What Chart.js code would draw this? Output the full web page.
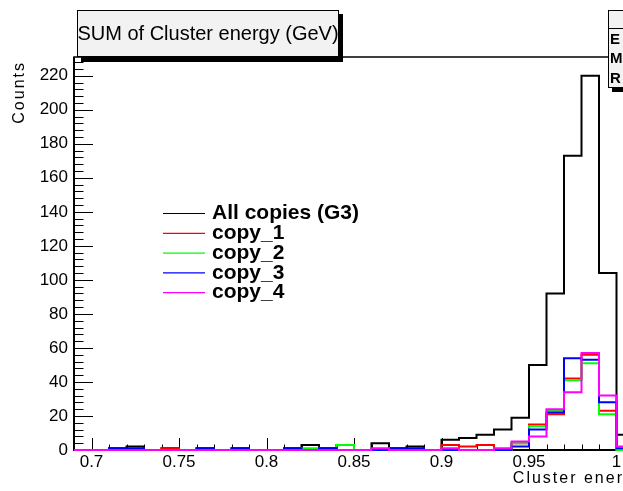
<!DOCTYPE html>
<html>
<head>
<meta charset="utf-8">
<title>SUM of Cluster energy (GeV)</title>
<script src="https://cdn.jsdelivr.net/npm/chart.js@4.4.1/dist/chart.umd.min.js"></script>
<style>
  html, body { margin: 0; padding: 0; background: #fff; overflow: hidden; }
  #wrap { width: 782px; height: 491px; }
</style>
</head>
<body>
<div id="wrap"><canvas id="histo" width="782" height="491"></canvas></div>
<script>
// bin low edges (GeV), bins are 0.01 wide
const binLow = [0.69, 0.70, 0.71, 0.72, 0.73, 0.74, 0.75, 0.76, 0.77, 0.78, 0.79, 0.80,
  0.81, 0.82, 0.83, 0.84, 0.85, 0.86, 0.87, 0.88, 0.89, 0.90, 0.91, 0.92,
  0.93, 0.94, 0.95, 0.96, 0.97, 0.98, 0.99, 1.00, 1.01, 1.02, 1.03, 1.04];
const binWidth = 0.01;

const allCopies = [0, 0, 1, 2, 0, 1, 0, 1, 0, 1, 0, 0,
  1, 3, 1, 3, 0, 4, 1, 2, 0, 6, 7, 9,
  12, 19, 50, 92, 173, 220, 104, 9, 3, 1, 0, 0];
const copy1 = [0, 0, 0, 0, 0, 1, 0, 0, 0, 0, 0, 0,
  0, 0, 0, 0, 0, 0, 0, 0, 0, 3, 2, 3,
  0, 4, 15, 21, 42, 56, 23, 0, 0, 0, 0, 0];
const copy2 = [0, 0, 0, 0, 0, 0, 0, 0, 0, 0, 0, 0,
  0, 1, 0, 3, 0, 0, 0, 0, 0, 0, 0, 0,
  0, 4, 14, 23, 41, 51, 21, 0, 0, 0, 0, 0];
const copy3 = [0, 0, 1, 1, 0, 0, 0, 1, 0, 1, 0, 0,
  1, 0, 1, 0, 0, 0, 1, 1, 0, 0, 0, 0,
  0, 2, 12, 22, 54, 53, 28, 1, 0, 0, 0, 0];
const copy4 = [0, 0, 0, 0, 0, 0, 0, 0, 0, 0, 0, 0,
  0, 0, 0, 0, 0, 1, 0, 0, 0, 1, 0, 0,
  1, 5, 8, 24, 34, 57, 32, 2, 0, 0, 0, 0];

const seriesNames = ['All copies (G3)', 'copy_1', 'copy_2', 'copy_3', 'copy_4'];
const seriesColors = ['#000000', '#ff0000', '#00ff00', '#0000ff', '#ff00ff'];
const xLabelValues = [0.7, 0.75, 0.8, 0.85, 0.9, 0.95, 1, 1.05];
const yLabelValues = [0, 20, 40, 60, 80, 100, 120, 140, 160, 180, 200, 220];

const font = 'Liberation Sans, Arial, sans-serif';

function steps(counts) {
  const pts = binLow.map((x, i) => ({x: x, y: counts[i]}));
  pts.push({x: Math.round((binLow[binLow.length - 1] + binWidth) * 100) / 100, y: counts[counts.length - 1]});
  return pts;
}

function isLabel(list, v) {
  return list.some(l => Math.abs(l - v) < 1e-6);
}

const xTickValues = binLow.concat([1.05]);
const yTickValues = [];
for (let v = 0; v <= 228; v += 4) yTickValues.push(v);

// stats of the summed histogram
const entries = allCopies.reduce((a, b) => a + b, 0);
const mean = allCopies.reduce((a, c, i) => a + c * (binLow[i] + binWidth / 2), 0) / entries;
const rms = Math.sqrt(allCopies.reduce((a, c, i) => a + c * Math.pow(binLow[i] + binWidth / 2 - mean, 2), 0) / entries);

const rootFrame = {
  id: 'rootFrame',
  // frame and ticks go under the histograms, as in the ROOT picture
  beforeDatasetsDraw: (chart) => {
    const {ctx, chartArea: a} = chart;
    const x = chart.scales.x, y = chart.scales.y;
    ctx.save();
    ctx.strokeStyle = '#000';
    ctx.lineWidth = 1;
    ctx.beginPath();
    xTickValues.forEach(v => {
      const px = Math.round(x.getPixelForValue(v)) + 0.5;
      const len = isLabel(xLabelValues, v) ? 12 : 5.5;
      ctx.moveTo(px, a.bottom);
      ctx.lineTo(px, a.bottom - len);
    });
    yTickValues.forEach(v => {
      const py = Math.round(y.getPixelForValue(v)) + 0.5;
      const len = v % 20 === 0 ? 19 : 9.5;
      ctx.moveTo(a.left, py);
      ctx.lineTo(a.left + len, py);
    });
    ctx.stroke();

    ctx.lineWidth = 1.5;
    ctx.strokeRect(a.left, a.top, a.right - a.left, a.bottom - a.top);
    ctx.lineWidth = 2;
    ctx.beginPath();
    ctx.moveTo(a.left, a.top);
    ctx.lineTo(a.left, a.bottom);
    ctx.lineTo(a.right, a.bottom);
    ctx.stroke();
    ctx.restore();
  },
  afterDraw: (chart) => {
    const {ctx, chartArea: a} = chart;
    ctx.save();

    // title box
    ctx.fillStyle = '#000';
    ctx.fillRect(81, 14, 262, 48);
    ctx.fillStyle = '#f2f2f2';
    ctx.fillRect(77, 10, 262, 47);
    ctx.lineWidth = 1;
    ctx.strokeStyle = '#000';
    ctx.strokeRect(77.5, 10.5, 261, 46);
    ctx.fillStyle = '#000';
    ctx.font = '20px ' + font;
    ctx.textAlign = 'center';
    ctx.textBaseline = 'middle';
    ctx.fillText('SUM of Cluster energy (GeV)', 208, 34);

    // stats box (mostly outside the window)
    ctx.fillStyle = '#000';
    ctx.fillRect(612, 14, 158, 78);
    ctx.fillStyle = '#f2f2f2';
    ctx.fillRect(608, 10, 158, 78);
    ctx.strokeRect(608.5, 10.5, 157, 77);
    ctx.beginPath();
    ctx.moveTo(608, 28.5);
    ctx.lineTo(766, 28.5);
    ctx.stroke();
    ctx.fillStyle = '#000';
    ctx.font = 'bold 15px ' + font;
    ctx.letterSpacing = '3px';
    ctx.fillText('hsum', 687, 20);
    const rows = [['Entries', String(entries)], ['Mean', mean.toFixed(4)], ['RMS', rms.toFixed(5)]];
    rows.forEach((r, i) => {
      const ry = 39.5 + i * 19.5;
      ctx.textAlign = 'left';
      ctx.fillText(r[0], 610, ry);
      ctx.textAlign = 'right';
      ctx.fillText(r[1], 762, ry);
    });
    ctx.letterSpacing = '0px';

    // legend
    chart.data.datasets.forEach((ds, i) => {
      const ly = 213.5 + i * 19.8;
      ctx.strokeStyle = ds.borderColor;
      ctx.lineWidth = 1.2;
      ctx.beginPath();
      ctx.moveTo(163, ly);
      ctx.lineTo(205, ly);
      ctx.stroke();
      ctx.fillStyle = '#000';
      ctx.font = 'bold 21px ' + font;
      ctx.textAlign = 'left';
      ctx.textBaseline = 'middle';
      ctx.fillText(ds.label, 212, ly);
    });

    // axis titles, right aligned like ROOT
    ctx.fillStyle = '#000';
    ctx.font = '16px ' + font;
    ctx.letterSpacing = '2px';
    ctx.textAlign = 'right';
    ctx.textBaseline = 'middle';
    ctx.fillText('Cluster energy (GeV)', a.right, 479);
    ctx.translate(20, a.top + 4);
    ctx.rotate(-Math.PI / 2);
    ctx.fillText('Counts', 0, 0);

    ctx.restore();
  }
};

const seriesData = [allCopies, copy1, copy2, copy3, copy4];

const data = {
  datasets: seriesData.map((counts, i) => ({
    label: seriesNames[i],
    data: steps(counts),
    borderColor: seriesColors[i],
    backgroundColor: seriesColors[i],
    borderWidth: 2,
    stepped: 'before',
    pointRadius: 0,
    fill: false,
    clip: false,
    order: seriesData.length - i
  }))
};

const config = {
  type: 'line',
  data: data,
  options: {
    responsive: false,
    animation: false,
    layout: { padding: { top: 57, right: 78, left: 0, bottom: 0 } },
    plugins: {
      legend: { display: false },
      title: { display: false },
      tooltip: { enabled: false }
    },
    scales: {
      x: {
        type: 'linear',
        min: 0.69,
        max: 1.05,
        afterFit: (s) => { s.height = 41; },
        afterBuildTicks: (s) => { s.ticks = xTickValues.map(v => ({value: v})); },
        grid: { display: false, drawTicks: false },
        border: { display: false },
        ticks: {
          autoSkip: false,
          maxRotation: 0,
          padding: 2,
          color: '#000',
          font: { family: font, size: 17 },
          callback: (v) => isLabel(xLabelValues, v) ? String(Math.round(v * 100) / 100) : ''
        }
      },
      y: {
        min: 0,
        max: 231,
        afterFit: (s) => { s.width = 74; },
        afterBuildTicks: (s) => { s.ticks = yTickValues.map(v => ({value: v})); },
        grid: { display: false, drawTicks: false },
        border: { display: false },
        ticks: {
          autoSkip: false,
          padding: 6,
          color: '#000',
          font: { family: font, size: 17 },
          callback: (v) => isLabel(yLabelValues, v) ? String(v) : ''
        }
      }
    }
  },
  plugins: [rootFrame]
};

const ctx = document.getElementById('histo');
new Chart(ctx, config);
</script>
</body>
</html>
